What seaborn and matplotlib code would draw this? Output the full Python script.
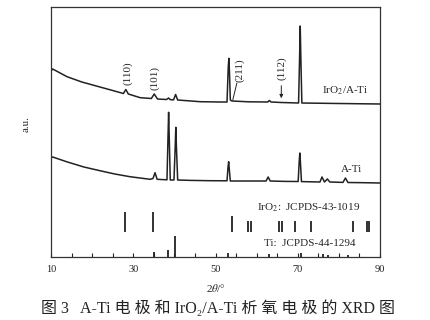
import numpy as np
import pandas as pd
import matplotlib
matplotlib.use("Agg")
import matplotlib.pyplot as plt
import seaborn as sns

# ---- data (2θ in degrees, intensity in arbitrary units) ----
iro2_x = [10.0, 10.4, 13.9, 17.5, 21.9, 25.0, 27.6, 28.2, 28.8, 31.7, 34.4, 35.1, 35.9,
          38.1, 38.6, 39.0, 39.8, 40.3, 40.8, 46.3, 51.1, 52.8, 53.1, 53.25, 53.4, 53.6,
          54.0, 58.0, 62.7, 63.1, 63.5, 66.0, 70.2, 70.45, 70.6, 70.75, 71.0, 80.0, 90.0]
iro2_y = [186, 188, 180.3, 175, 170, 166.5, 163.5, 167.5, 163, 159.3, 158.5, 163, 158,
          157.5, 159, 157.3, 157.2, 162.5, 157, 155.3, 155, 155, 190, 198.7, 185, 157,
          156, 155.2, 155, 156.5, 155, 154.5, 154, 200, 231, 200, 154, 153.5, 153]

ati_x = [10.0, 10.4, 14.0, 18.0, 21.9, 25.5, 29.2, 34.1, 34.8, 35.3, 35.8, 38.2, 38.45,
         38.6, 38.75, 39.0, 39.9, 40.2, 40.35, 40.5, 40.8, 44.0, 48.7, 52.8, 53.05, 53.2,
         53.35, 53.6, 58.0, 62.3, 62.8, 63.3, 67.0, 70.1, 70.35, 70.5, 70.65, 70.9, 75.4,
         75.9, 76.5, 77.2, 77.8, 81.0, 81.6, 82.2, 86.0, 90.0]
ati_y = [99, 100, 95, 90, 86.3, 83, 80.3, 77.7, 78.5, 84.3, 77.7, 77.2, 120, 144.7, 120,
         77, 77, 110, 129.7, 110, 77, 76.6, 76.3, 76.2, 90, 95.3, 88, 76, 76, 76, 80, 76,
         75.6, 75.5, 95, 104, 95, 75.4, 75, 80, 75, 78, 75, 74.6, 79, 74.5, 74.3, 74]

iro2_ref_pos = [28.05, 34.7, 54.0, 57.95, 58.6, 65.55, 66.05, 69.3, 73.2, 83.45, 86.75, 87.25]
iro2_ref_h = [20, 20, 16, 11, 11, 11, 11, 11, 11, 11, 11, 11]
ti_ref_pos = [35.1, 38.4, 40.2, 53.0, 62.9, 70.7, 76.2, 77.4, 82.3]
ti_ref_h = [5, 7, 21, 4, 3, 4, 3, 2, 2]
xtick_labels = [10, 30, 50, 70, 90]

iro2_df = pd.DataFrame({"two_theta": iro2_x, "intensity": iro2_y})
ati_df = pd.DataFrame({"two_theta": ati_x, "intensity": ati_y})

# ---- style ----
sns.set_style("ticks")
fam = ["Liberation Serif", "Noto Sans CJK SC", "DejaVu Sans"]
plt.rcParams["font.family"] = fam
plt.rcParams["mathtext.fontset"] = "stix"

fig = plt.figure(figsize=(4.31, 3.20), dpi=100)
ax = fig.add_axes([51 / 431, 63 / 320, 329 / 431, 250 / 320])

lc = "#222222"
sns.lineplot(data=iro2_df, x="two_theta", y="intensity", ax=ax, color=lc, lw=1.1, sort=False)
sns.lineplot(data=ati_df, x="two_theta", y="intensity", ax=ax, color=lc, lw=1.1, sort=False)

ref_base = 25
ax.vlines(iro2_ref_pos, ref_base, [ref_base + h for h in iro2_ref_h], color=lc, lw=1.3)
ax.vlines(ti_ref_pos, 0, ti_ref_h, color=lc, lw=1.3)

ax.set_xlim(10, 90)
ax.set_ylim(0, 250)
ax.set_xticks(xtick_labels)
ax.set_xticklabels([str(v) for v in xtick_labels], fontsize=7.5)
ax.set_xticks(np.arange(15, 90, 5), minor=True)
ax.set_yticks([])
ax.tick_params(axis="x", which="both", direction="in", length=3, width=0.8, pad=6, colors=lc)
for s in ax.spines.values():
    s.set_visible(True)
    s.set_linewidth(0.9)
    s.set_color("#333333")

ax.set_ylabel("a.u.", fontsize=8)
ax.yaxis.set_label_coords(-0.062, 0.53)
ax.set_xlabel(r"2$\theta$/°", fontsize=8)
ax.xaxis.set_label_coords(0.5, -0.10)

fs = 8
ax.text(28.7, 184, "(110)", rotation=90, ha="center", va="center", fontsize=fs)
ax.text(35.1, 179, "(101)", rotation=90, ha="center", va="center", fontsize=fs)
ax.text(56.0, 187, "(211)", rotation=90, ha="center", va="center", fontsize=fs)
ax.plot([55.2, 54.2], [174, 157], color=lc, lw=0.7)
ax.text(66.1, 189, "(112)", rotation=90, ha="center", va="center", fontsize=fs)
ax.annotate("", xy=(66.0, 156), xytext=(66.0, 174),
            arrowprops=dict(arrowstyle="-|>", color=lc, lw=0.7, mutation_scale=5))

ax.text(87.1, 166, r"IrO$_2$/A-Ti", ha="right", va="center", fontsize=fs)
ax.text(85.7, 87, "A-Ti", ha="right", va="center", fontsize=fs)
ax.text(72.65, 49, r"IrO$_2$:  JCPDS-43-1019", ha="center", va="center", fontsize=fs)
ax.text(72.9, 14, "Ti:  JCPDS-44-1294", ha="center", va="center", fontsize=fs)

fig.text(0.506, 0.035, "图 3   A-Ti 电 极 和 IrO\u2082/A-Ti 析 氧 电 极 的 XRD 图",
         ha="center", va="center", fontsize=11.5, family=fam, color="#222222")

fig.savefig("out.png", dpi=100)
